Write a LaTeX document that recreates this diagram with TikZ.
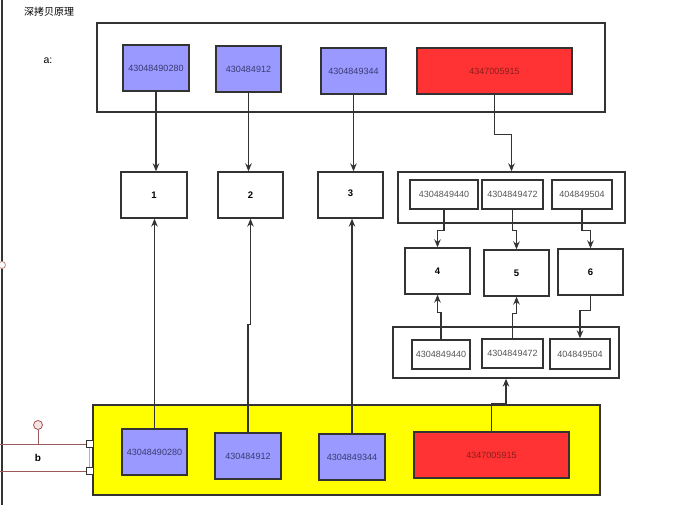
\documentclass[tikz,border=0pt]{standalone}
\usepackage{fontspec}
\setmainfont{Liberation Sans}
\newfontfamily\cjk{Noto Sans CJK SC}
\usetikzlibrary{arrows.meta}
\definecolor{bluefill}{HTML}{9999FF}
\definecolor{redfill}{HTML}{FF3333}
\definecolor{yel}{HTML}{FFFF00}
\definecolor{edge}{HTML}{333333}
\definecolor{bluetxt}{HTML}{3A3A70}
\definecolor{redtxt}{HTML}{8A1E1E}
\definecolor{graytxt}{HTML}{555555}
\definecolor{brown}{HTML}{9A5A5A}
\definecolor{pinkedge}{HTML}{B05050}
\tikzset{
  frame/.style={draw=edge, line width=1.3pt, fill=white, inner sep=0pt},
  bluebox/.style={draw=edge, line width=1.3pt, fill=bluefill, inner sep=0pt, text=bluetxt, font=\fontsize{9}{10}\selectfont},
  redbox/.style={draw=edge, line width=1.3pt, fill=redfill, inner sep=0pt, text=redtxt, font=\fontsize{9}{10}\selectfont},
  whitebox/.style={draw=edge, line width=1.3pt, fill=white, inner sep=0pt, text=graytxt, font=\fontsize{9}{10}\selectfont},
  numbox/.style={draw=edge, line width=1.3pt, fill=white, inner sep=0pt, font=\bfseries\fontsize{9.5}{11}\selectfont, minimum width=65pt, minimum height=46pt},
  arr/.style={draw=edge, line width=1.3pt, -{Stealth[length=8pt,width=6.5pt]}},
  lbl/.style={inner sep=0pt, font=\bfseries\fontsize{9.5}{11}\selectfont}
}
\begin{document}
\begin{tikzpicture}[x=1pt,y=-1pt]
\useasboundingbox (0,0) rectangle (699,505);
% left line and decorations
\coordinate (lt) at (2,0);
\coordinate (lb) at (2,505);
\draw[edge, line width=1.1pt] (lt) -- (lb);
\node[circle, draw=pinkedge!70, fill=white, minimum size=7pt, inner sep=0pt, line width=0.8pt] (lcirc) at (2,265) {};
\node[anchor=west, inner sep=0pt, font=\cjk\fontsize{10}{12}\selectfont] (title) at (24,12) {深拷贝原理};
\node[inner sep=0pt, font=\fontsize{10.5}{12}\selectfont] (alabel) at (48,61) {a:};

% top frame
\node[frame, minimum width=508pt, minimum height=89pt] (ta) at (351,67.5) {};
\node[bluebox, minimum width=66pt, minimum height=46pt] (a1) at (156,68) {43048490280};
\node[bluebox, minimum width=65pt, minimum height=46pt] (a2) at (248.5,69) {430484912};
\node[bluebox, minimum width=65pt, minimum height=46pt] (a3) at (353.5,71) {4304849344};
\node[redbox, minimum width=155pt, minimum height=46pt] (ar) at (494.5,71) {\raisebox{-3pt}{4347005915}};

% middle row
\node[numbox, minimum width=66pt] (n1) at (154,195) {1};
\node[numbox] (n2) at (250.5,195) {2};
\node[numbox] (n3) at (350.5,195) {\raisebox{3pt}{3}};
\node[frame, minimum width=227pt, minimum height=51pt] (fr1) at (511.5,197.5) {};
\node[whitebox, minimum width=68pt, minimum height=29pt] (m1) at (444,194.5) {4304849440};
\node[whitebox, minimum width=61pt, minimum height=29pt] (m2) at (512.5,194.5) {4304849472};
\node[whitebox, minimum width=60pt, minimum height=29pt] (m3) at (582,194.5) {404849504};
\node[numbox] (n4) at (437.5,271) {4};
\node[numbox] (n5) at (516.5,273) {5};
\node[numbox] (n6) at (590.5,272) {6};
\node[frame, minimum width=226pt, minimum height=51pt] (fr2) at (506,352.5) {};
\node[whitebox, minimum width=58pt, minimum height=29pt] (k1) at (441,354.5) {4304849440};
\node[whitebox, minimum width=61pt, minimum height=29pt] (k2) at (512.5,353.5) {4304849472};
\node[whitebox, minimum width=60pt, minimum height=30pt] (k3) at (580,354) {404849504};

% bottom yellow frame
\node[frame, fill=yel, minimum width=507pt, minimum height=90pt] (fb) at (346.5,450) {};
\node[bluebox, minimum width=65pt, minimum height=46pt] (b1) at (154.5,452) {43048490280};
\node[bluebox, minimum width=66pt, minimum height=46pt] (b2) at (248,456) {430484912};
\node[bluebox, minimum width=66pt, minimum height=46pt] (b3) at (352,457) {4304849344};
\node[redbox, minimum width=155pt, minimum height=46pt] (br) at (491.5,455) {\raisebox{-3pt}{4347005915}};

% left b decorations
\coordinate (bl1) at (0,444);
\coordinate (bl2) at (0,471);
\node[draw=edge, fill=white, minimum size=7pt, inner sep=0pt, line width=0.8pt] (sq1) at (89.5,444) {};
\node[draw=edge, fill=white, minimum size=7pt, inner sep=0pt, line width=0.8pt] (sq2) at (89.5,471) {};
\draw[brown, line width=0.8pt] (bl1) -- (sq1.west);
\draw[brown, line width=0.8pt] (bl2) -- (sq2.west);
\draw[gray!60, line width=0.6pt] (sq1.south) -- (sq2.north);
\node[circle, draw=pinkedge, fill=pinkedge!15, minimum size=9pt, inner sep=0pt, line width=0.8pt] (bcirc) at (38,425) {};
\draw[brown, line width=0.8pt] (bcirc.south) -- (bcirc.south |- sq1.west);
\node[lbl, font=\bfseries\fontsize{10}{12}\selectfont] (blabel) at (38,458) {b};

% connectors top
\draw[arr] (a1.south) -- (a1.south |- n1.north);
\draw[arr] (a2.south) -- (a2.south |- n2.north);
\draw[arr] (a3.south) -- (a3.south |- n3.north);
\draw[arr] (ar.south) -- ++(0,40) -| (fr1.north);
\draw[arr] (m1.south) -- ++(0,21) -| (n4.north);
\draw[arr] (m2.south) -- ++(0,21) -| (n5.north);
\draw[arr] (m3.south) -- ++(0,21) -| (n6.north);
% connectors bottom
\draw[arr] (k1.north) -- ++(0,-27) -| (n4.south);
\draw[arr] (k2.north) -- ++(0,-25) -| (n5.south);
\draw[arr] (n6.south) -- ++(0,15) -| (k3.north);
\draw[arr] (br.north) -- ++(0,-28) -| (fr2.south);
\draw[arr] (b1.north) -- (b1.north |- n1.south);
\draw[arr] (b2.north) -- ++(0,-108) -| (n2.south);
\draw[arr] (b3.north) -- (b3.north |- n3.south);
\end{tikzpicture}
\end{document}
